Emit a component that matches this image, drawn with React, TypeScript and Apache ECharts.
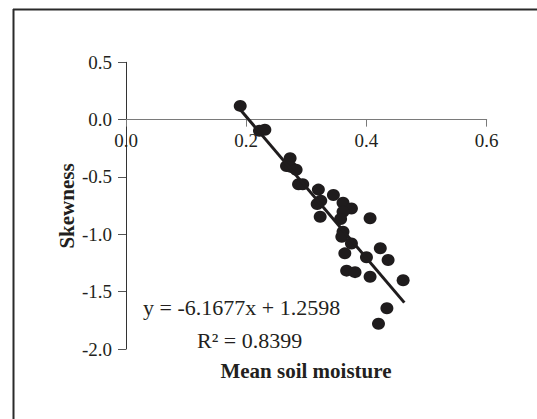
import React, { useEffect, useRef } from "react";
import * as echarts from "echarts";

const moisture = [0.190, 0.222, 0.231, 0.273, 0.267, 0.274, 0.283, 0.287, 0.294, 0.320, 0.345, 0.318, 0.324, 0.323, 0.361, 0.375, 0.361, 0.357, 0.406, 0.361, 0.359, 0.375, 0.423, 0.364, 0.400, 0.436, 0.367, 0.381, 0.406, 0.461, 0.434, 0.420];
const skewness = [0.120, -0.097, -0.088, -0.337, -0.405, -0.412, -0.437, -0.563, -0.563, -0.610, -0.657, -0.736, -0.707, -0.847, -0.724, -0.775, -0.803, -0.866, -0.860, -0.977, -1.021, -1.080, -1.122, -1.166, -1.200, -1.224, -1.317, -1.330, -1.370, -1.400, -1.645, -1.780];
const slope = -6.1677;
const intercept = 1.2598;
const trendX = [0.191, 0.463];
const equationText = "y = -6.1677x + 1.2598";
const r2Text = "R² = 0.8399";
const xTitle = "Mean soil moisture";
const yTitle = "Skewness";

const SERIF = "'Liberation Serif', 'Times New Roman', serif";
const INK = "#231f20";

const GRID_TOP = 62.3;
const GRID_BOTTOM = 70;
const CHART_H = 419;
const Y_MIN = -2;
const Y_MAX = 0.5;

export default function App() {
  const ref = useRef<HTMLDivElement>(null);
  useEffect(() => {
    document.body.style.margin = "0";
    const chart = echarts.init(ref.current!, null, { renderer: "svg" });
    const points = moisture.map((x, i) => [x, skewness[i]]);
    const trend = trendX.map((x) => [x, slope * x + intercept]);
    // move the x axis up so it crosses the y axis at zero
    const plotH = CHART_H - GRID_TOP - GRID_BOTTOM;
    const zeroOffset = -plotH * (0 - Y_MIN) / (Y_MAX - Y_MIN);
    chart.setOption({
      animation: false,
      backgroundColor: "#fff",
      grid: { left: 126, right: 50.3, top: GRID_TOP, bottom: GRID_BOTTOM },
      xAxis: {
        type: "value",
        position: "bottom",
        offset: zeroOffset,
        min: 0,
        max: 0.6,
        interval: 0.2,
        splitLine: { show: false },
        axisLine: { onZero: false, lineStyle: { color: "#7a7a7a", width: 1 } },
        axisTick: { show: true, length: 7, lineStyle: { color: "#7a7a7a" } },
        axisLabel: {
          margin: 11,
          color: INK,
          fontFamily: SERIF,
          fontSize: 19,
          formatter: (v: number) => v.toFixed(1),
        },
      },
      yAxis: {
        type: "value",
        min: Y_MIN,
        max: Y_MAX,
        interval: 0.5,
        splitLine: { show: false },
        axisLine: { onZero: false, lineStyle: { color: "#333", width: 1 } },
        axisTick: { show: true, length: 8, lineStyle: { color: "#555" } },
        axisLabel: {
          margin: 14,
          color: INK,
          fontFamily: SERIF,
          fontSize: 19,
          formatter: (v: number) => v.toFixed(1),
        },
      },
      graphic: [
        { type: "line", shape: { x1: 13, y1: 9.5, x2: 537, y2: 9.5 }, style: { stroke: "#2a2a2a", lineWidth: 2 } },
        { type: "line", shape: { x1: 13.5, y1: 9, x2: 13.5, y2: 419 }, style: { stroke: "#2a2a2a", lineWidth: 2 } },
        {
          type: "text", x: 143, y: 307,
          style: { text: equationText, fill: INK, font: `22px ${SERIF}`, textAlign: "left", textVerticalAlign: "middle" },
        },
        {
          type: "text", x: 197, y: 340,
          style: { text: r2Text, fill: INK, font: `22px ${SERIF}`, textAlign: "left", textVerticalAlign: "middle" },
        },
        {
          type: "text", x: 306, y: 371,
          style: { text: xTitle, fill: INK, font: `bold 21px ${SERIF}`, textAlign: "center", textVerticalAlign: "middle" },
        },
        {
          type: "text", x: 67, y: 206, rotation: Math.PI / 2,
          style: { text: yTitle, fill: INK, font: `bold 21px ${SERIF}`, textAlign: "center", textVerticalAlign: "middle" },
        },
      ],
      series: [
        {
          type: "scatter",
          data: points,
          symbol: "circle",
          symbolSize: [13, 12],
          itemStyle: { color: "#1f1c1d", opacity: 1 },
          z: 3,
        },
        {
          type: "line",
          data: trend,
          symbol: "none",
          lineStyle: { color: "#1f1c1d", width: 3 },
          z: 4,
        },
      ],
    });
    return () => chart.dispose();
  }, []);
  return <div ref={ref} style={{ width: 537, height: 419 }} />;
}
